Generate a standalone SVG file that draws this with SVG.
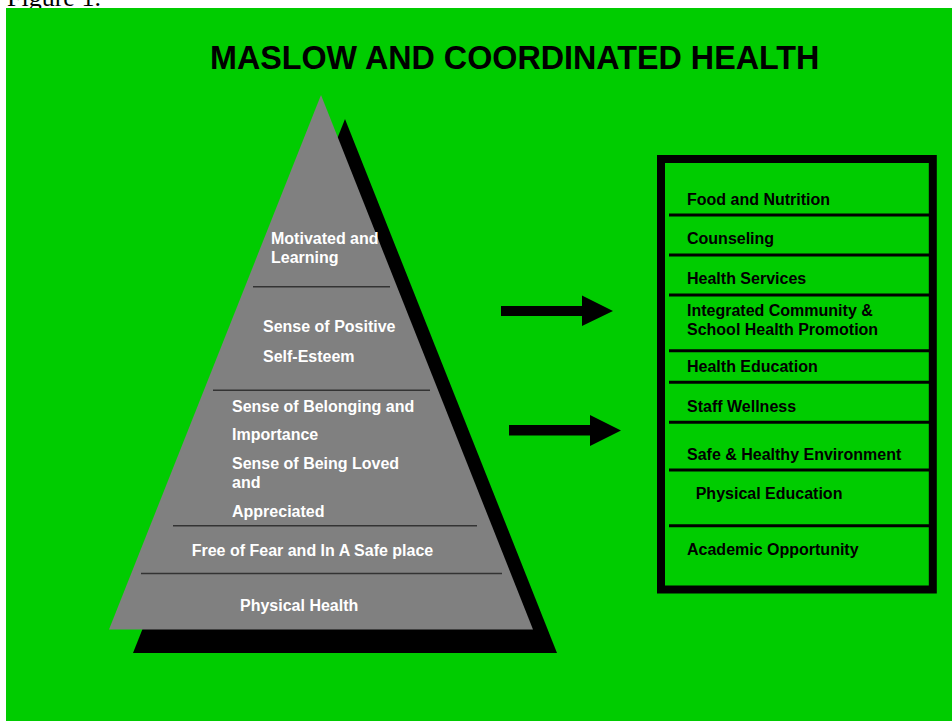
<svg xmlns="http://www.w3.org/2000/svg" width="952" height="721" viewBox="0 0 952 721">
<style>
.lvl{font-family:"Liberation Sans",Arial,sans-serif;font-weight:bold;font-size:16px;fill:#ffffff}
.itm{font-family:"Liberation Sans",Arial,sans-serif;font-weight:bold;font-size:16px;fill:#000000}
.div{stroke:#333333;stroke-width:1.5}
.sep{stroke:#000000;stroke-width:3}
.arrow{fill:#000000}
</style>
<rect x="0" y="0" width="952" height="721" fill="#ffffff"/>
<text x="7" y="6" font-family="Liberation Serif,'Times New Roman',serif" font-size="26" fill="#000000">Figure 1.</text>
<rect x="6" y="8" width="946" height="713" fill="#00cc00"/>
<g id="title">
<text x="210" y="68.5" font-family="Liberation Sans,Arial,sans-serif" font-weight="bold" font-size="32.3" fill="#000000">MASLOW AND COORDINATED HEALTH</text>
</g>
<g id="pyramid">
<polygon points="345,119 133,653 557,653" fill="#000000"/>
<polygon points="321,95 109,629.5 533,629.5" fill="#808080"/>
<line class="div" x1="253" y1="286.7" x2="390" y2="286.7"/>
<line class="div" x1="213" y1="390.3" x2="430" y2="390.3"/>
<line class="div" x1="173" y1="525.7" x2="477" y2="525.7"/>
<line class="div" x1="141" y1="573.5" x2="502" y2="573.5"/>
<g id="level-motivated"><text class="lvl" x="271" y="244">Motivated and</text><text class="lvl" x="271" y="263">Learning</text></g>
<g id="level-esteem"><text class="lvl" x="263" y="332">Sense of Positive</text><text class="lvl" x="263" y="361.5">Self-Esteem</text></g>
<g id="level-belonging"><text class="lvl" x="232" y="412.3">Sense of Belonging and</text><text class="lvl" x="232" y="440.3">Importance</text><text class="lvl" x="232" y="469.3">Sense of Being Loved</text><text class="lvl" x="232" y="488.3">and</text><text class="lvl" x="232" y="517">Appreciated</text></g>
<g id="level-safety"><text class="lvl" x="191.7" y="555.7">Free of Fear and In A Safe place</text></g>
<g id="level-physical"><text class="lvl" x="240" y="611.3">Physical Health</text></g>
</g>
<g id="connectors">
<polygon class="arrow" points="501,306 582,306 582,295.5 613,311 582,326 582,316 501,316"/>
<polygon class="arrow" points="509,425 590,425 590,415 621,430.5 590,446 590,435.5 509,435.5"/>
</g>
<g id="components">
<rect x="661" y="159" width="271.8" height="430.5" fill="none" stroke="#000000" stroke-width="8"/>
<line class="sep" x1="669" y1="215" x2="929" y2="215"/>
<line class="sep" x1="669" y1="255" x2="929" y2="255"/>
<line class="sep" x1="669" y1="295" x2="929" y2="295"/>
<line class="sep" x1="669" y1="350.7" x2="929" y2="350.7"/>
<line class="sep" x1="669" y1="382.3" x2="929" y2="382.3"/>
<line class="sep" x1="669" y1="422.3" x2="929" y2="422.3"/>
<line class="sep" x1="669" y1="470" x2="929" y2="470"/>
<line class="sep" x1="669" y1="525.7" x2="929" y2="525.7"/>
<g id="item-food"><text class="itm" x="687" y="205">Food and Nutrition</text></g>
<g id="item-counseling"><text class="itm" x="687" y="244.3">Counseling</text></g>
<g id="item-health-services"><text class="itm" x="687" y="284">Health Services</text></g>
<g id="item-community"><text class="itm" x="687" y="316">Integrated Community &amp;</text><text class="itm" x="687" y="335">School Health Promotion</text></g>
<g id="item-health-education"><text class="itm" x="687" y="372">Health Education</text></g>
<g id="item-staff"><text class="itm" x="687" y="412">Staff Wellness</text></g>
<g id="item-environment"><text class="itm" x="687" y="460.3">Safe &amp; Healthy Environment</text></g>
<g id="item-pe"><text class="itm" x="695.7" y="499.3">Physical Education</text></g>
<g id="item-academic"><text class="itm" x="687" y="555.3">Academic Opportunity</text></g>
</g>
</svg>
